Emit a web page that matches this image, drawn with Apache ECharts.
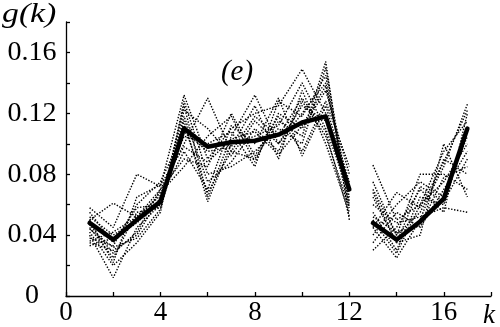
<!DOCTYPE html>
<html><head><meta charset="utf-8">
<script src="https://cdn.jsdelivr.net/npm/echarts@6/dist/echarts.min.js"></script>
<style>html,body{margin:0;padding:0;background:#fff}#c{width:500px;height:327px}</style>
</head><body><div id="c"></div>
<script>
// k values of the two segments (gap between 12 and 13)
const kFirst  = [1,2,3,4,5,6,7,8,9,10,11,12];
const kSecond = [13,14,15,16,17];

// thick (mean) curve, values for k = 1..17
const meanG = [0.048,0.037,0.050,0.062,0.110,0.098,0.101,0.102,0.106,0.114,0.118,0.070, 0.048,0.037,0.049,0.064,0.110];

// dotted individual curves, values for k = 1..17
const run01 = [0.058,0.045,0.080,0.072,0.132,0.090,0.110,0.120,0.125,0.149,0.120,0.060, 0.086,0.050,0.060,0.075,0.100];
const run02 = [0.050,0.061,0.052,0.070,0.100,0.130,0.095,0.090,0.115,0.105,0.154,0.050, 0.070,0.040,0.055,0.085,0.126];
const run03 = [0.040,0.012,0.045,0.060,0.125,0.065,0.105,0.132,0.100,0.120,0.140,0.065, 0.035,0.055,0.045,0.070,0.095];
const run04 = [0.035,0.030,0.040,0.065,0.095,0.070,0.112,0.100,0.130,0.092,0.125,0.075, 0.055,0.030,0.065,0.060,0.110];
const run05 = [0.045,0.025,0.055,0.058,0.118,0.075,0.088,0.110,0.095,0.128,0.105,0.058, 0.045,0.025,0.050,0.090,0.080];
const run06 = [0.052,0.040,0.050,0.068,0.085,0.105,0.118,0.088,0.120,0.110,0.135,0.080, 0.030,0.045,0.070,0.055,0.120];
const run07 = [0.038,0.033,0.060,0.075,0.108,0.095,0.098,0.125,0.090,0.135,0.100,0.055, 0.065,0.035,0.040,0.100,0.065];
const run08 = [0.042,0.020,0.035,0.055,0.128,0.080,0.085,0.095,0.110,0.100,0.150,0.062, 0.040,0.060,0.075,0.065,0.105];
const run09 = [0.033,0.038,0.048,0.063,0.115,0.062,0.100,0.105,0.112,0.140,0.110,0.068, 0.075,0.040,0.080,0.080,0.070];
const run10 = [0.047,0.028,0.042,0.070,0.090,0.085,0.120,0.092,0.118,0.095,0.128,0.085, 0.050,0.028,0.060,0.095,0.115];
const run11 = [0.055,0.035,0.058,0.060,0.122,0.110,0.092,0.115,0.100,0.125,0.115,0.072, 0.060,0.048,0.052,0.058,0.055];
const run12 = [0.036,0.042,0.052,0.066,0.105,0.100,0.108,0.085,0.128,0.118,0.145,0.058, 0.045,0.068,0.058,0.088,0.122];
const run13 = [0.044,0.032,0.038,0.057,0.112,0.068,0.095,0.118,0.105,0.130,0.108,0.052, 0.068,0.035,0.072,0.062,0.090];
const run14 = [0.050,0.022,0.065,0.073,0.098,0.088,0.103,0.108,0.093,0.112,0.138,0.070, 0.052,0.042,0.046,0.078,0.085];

// tick labels
const xTickLabels = {0:'0', 4:'4', 8:'8', 12:'12', 16:'16'};
const yTickLabels = {0:'0', 4:'0.04', 8:'0.08', 12:'0.12', 16:'0.16'};

const runs = [run01,run02,run03,run04,run05,run06,run07,run08,run09,run10,run11,run12,run13,run14];

function seg(vals, ks, offset){ return ks.map((k,i)=>[k, vals[offset+i]]); }

const series = [];
const FONT = "'Liberation Serif', 'Times New Roman', Times, serif";
runs.forEach(r=>{
  [[kFirst,0],[kSecond,12]].forEach(([ks,off])=>{
    series.push({type:'line', data:seg(r,ks,off), symbol:'none', silent:true, z:2,
      lineStyle:{color:'#000', width:1.4, type:[1.4,1.6]}});
  });
});
[[kFirst,0],[kSecond,12]].forEach(([ks,off])=>{
  series.push({type:'line', data:seg(meanG,ks,off), symbol:'none', silent:true, z:5,
    lineStyle:{color:'#000', width:4.5, join:'round', cap:'round'}});
});

const chart = echarts.init(document.getElementById('c'), null, {renderer:'canvas'});
chart.setOption({
  animation:false,
  backgroundColor:'#fff',
  grid:{left:66, right:9, top:22, bottom:31},
  xAxis:{type:'value', min:0, max:18, interval:2,
    axisLine:{lineStyle:{color:'#000', width:1.3}},
    axisTick:{inside:true, length:4, lineStyle:{color:'#000', width:1.3}},
    splitLine:{show:false},
    axisLabel:{margin:3, color:'#000', fontFamily:FONT, fontSize:27,
      formatter:v=>{const n=Math.round(v); return xTickLabels[n]!==undefined?xTickLabels[n]:'';}}},
  yAxis:{type:'value', min:0, max:0.18, interval:0.02,
    axisLine:{lineStyle:{color:'#000', width:1.3}},
    axisTick:{inside:true, length:4, lineStyle:{color:'#000', width:1.3}},
    splitLine:{show:false},
    axisLabel:{margin:34, align:'center', color:'#000', fontFamily:FONT, fontSize:28,
      formatter:v=>{const n=Math.round(v*100); return yTickLabels[n]!==undefined?yTickLabels[n]:'';}}},
  series:series,
  graphic:[
    {type:'text', x:2, y:1, scaleX:1.25, style:{text:'g(k)', fontFamily:FONT, fontStyle:'italic', fontSize:27, fill:'#000'}},
    {type:'text', x:237, y:72, style:{text:'(e)', fontFamily:FONT, fontStyle:'italic', fontSize:29, fill:'#000', align:'center', verticalAlign:'middle'}},
    {type:'text', x:489, y:316, style:{text:'k', fontFamily:FONT, fontStyle:'italic', fontSize:27, fill:'#000', align:'center', verticalAlign:'middle'}}
  ]
});
</script></body></html>
